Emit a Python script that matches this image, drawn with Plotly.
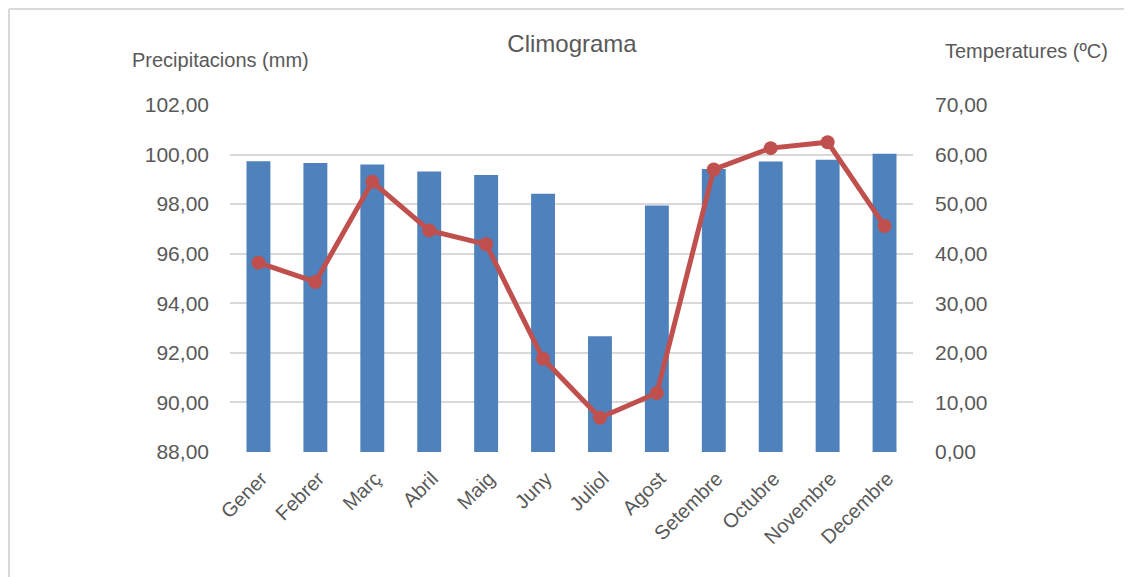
import plotly.graph_objects as go

months = ["Gener", "Febrer", "Març", "Abril", "Maig", "Juny", "Juliol",
          "Agost", "Setembre", "Octubre", "Novembre", "Decembre"]
precipitation = [99.73, 99.66, 99.60, 99.32, 99.18, 98.42, 92.67,
                 97.95, 99.42, 99.72, 99.79, 100.03]
temperature = [38.2, 34.3, 54.5, 44.7, 41.9, 18.8, 6.9,
               11.9, 57.0, 61.3, 62.5, 45.6]

BAR_BLUE = "#4F81BD"
LINE_RED = "#C0504D"
GRID = "#D9D9D9"
TEXT = "#595959"
FONT = "Liberation Sans, Arial, sans-serif"

W, H = 1132, 577
OFF = 8  # page body margin
L, T = 230 - OFF, 105 - OFF
R, B = W - (913 - OFF), H - (452 - OFF)
pw, ph = W - L - R, H - T - B


def px_x(x):
    # page pixel -> paper coordinate
    return (x - OFF - L) / pw


def px_y(y):
    return (H - B - (y - OFF)) / ph


fig = go.Figure()
fig.add_trace(go.Bar(
    x=months, y=precipitation, name="Precipitacions",
    marker_color=BAR_BLUE, marker_line_width=0,
))
fig.add_trace(go.Scatter(
    x=months, y=temperature, name="Temperatures", yaxis="y2",
    mode="lines+markers",
    line=dict(color=LINE_RED, width=5),
    marker=dict(color=LINE_RED, size=14),
))

fig.update_layout(
    width=W, height=H,
    margin=dict(l=L, r=R, t=T, b=B),
    paper_bgcolor="white", plot_bgcolor="white",
    font=dict(family=FONT, color=TEXT, size=18),
    separators=",.",
    showlegend=False,
    bargap=0.58,
    title=dict(text="Climograma", x=px_x(572), xanchor="center",
               xref="paper", y=1 - (44 - OFF) / H, yanchor="middle",
               font=dict(size=24, color=TEXT)),
    xaxis=dict(range=[-0.5, len(months) - 0.5], tickangle=-45,
               showgrid=False, showline=False, ticks="",
               ticklabelstandoff=10, ticklabelshift=3,
               tickfont=dict(size=20, color=TEXT)),
    yaxis=dict(range=[88, 102], dtick=2, tickformat=".2f",
               gridcolor=GRID, gridwidth=1.5, zeroline=False,
               showline=False, ticks="", ticklabelstandoff=20,
               tickfont=dict(size=21, color=TEXT)),
    yaxis2=dict(range=[0, 70], dtick=10, tickformat=".2f",
                overlaying="y", side="right", showgrid=False,
                zeroline=False, showline=False, ticks="",
                ticklabelstandoff=21,
                tickfont=dict(size=21, color=TEXT)),
    annotations=[
        dict(text="Precipitacions (mm)", xref="paper", yref="paper",
             x=px_x(220), y=px_y(60), xanchor="center", yanchor="middle",
             showarrow=False, font=dict(size=20, color=TEXT)),
        dict(text="Temperatures (ºC)", xref="paper", yref="paper",
             x=px_x(1026), y=px_y(51), xanchor="center", yanchor="middle",
             showarrow=False, font=dict(size=20, color=TEXT)),
    ],
    shapes=[
        dict(type="line", xref="paper", yref="paper",
             x0=px_x(OFF + 1), x1=px_x(W + 20), y0=px_y(OFF + 1),
             y1=px_y(OFF + 1), line=dict(color=GRID, width=2)),
        dict(type="line", xref="paper", yref="paper",
             x0=px_x(OFF + 1), x1=px_x(OFF + 1), y0=px_y(OFF + 1),
             y1=px_y(H + 20), line=dict(color=GRID, width=2)),
    ],
)

fig.write_html("out.html")
